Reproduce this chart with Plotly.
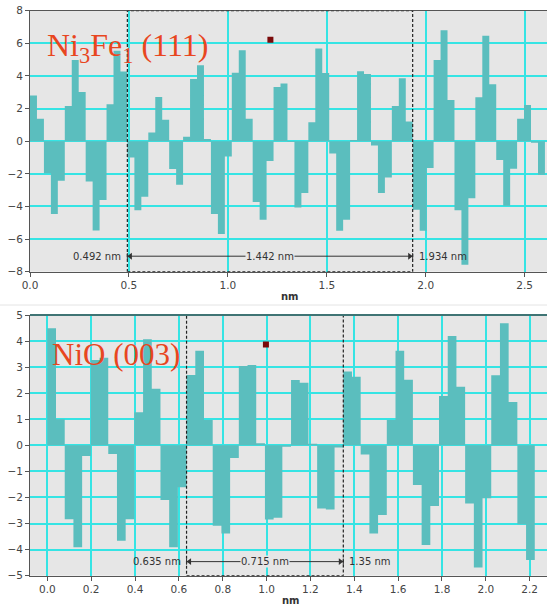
import plotly.graph_objects as go

# ---------------- data ----------------
top_step_nm = 0.03517
top_profile = [2.8, 1.37, -1.96, -4.47, -2.43, 2.16, 4.98, 3.02, -2.47, -5.47,
               -3.61, 2.27, 5.55, 4.27, -1.0, -4.24, -3.41, 0.53, 2.71, 1.31,
               -1.71, -2.67, 0.27, 3.82, 4.65, 0.14, -4.47, -5.69, -0.94, 4.2,
               5.57, 1.38, -3.72, -4.82, -1.22, 3.33, 3.54, -0.05, -4.06, -3.18,
               1.16, 5.69, 4.18, -0.76, -5.49, -4.82, 0.08, 4.29, 4.12, -0.27,
               -3.18, -2.22, 2.16, 3.86, 1.2, -4.2, -5.49, -1.65, 4.98, 6.8,
               2.53, -4.24, -7.57, -3.49, 2.69, 6.47, 3.49, -1.16, -3.96, -1.69,
               1.37, 2.22, -0.1, -2.06]

bot_step_nm = 0.0397
bot_profile = [4.49, 1.0, -2.83, -3.91, -0.41, 3.27, 3.36, -0.33, -3.66, -2.83,
               1.27, 4.07, 2.17, -2.1, -3.91, -1.61, 2.7, 3.63, 0.97, -3.08,
               -3.38, -0.49, 3.04, 3.08, 0.08, -2.84, -2.78, -0.05, 2.51, 2.4,
               0.06, -2.42, -2.46, -0.08, 2.83, 2.63, -0.35, -3.38, -2.67, 0.97,
               3.63, 2.52, -1.52, -3.82, -2.33, 1.89, 4.19, 2.25, -2.23, -4.69,
               -2.03, 2.69, 4.68, 1.66, -3.03, -4.4]

top_marks = [0.492, 1.934]          # nm, measured positions
top_span_label = "1.442 nm"
bot_marks = [0.635, 1.35]
bot_span_label = "0.715 nm"

top_cursor = (1.215, 6.22)
bot_cursor = (0.997, 3.87)

top_title = "Ni<sub>3</sub>Fe<sub>1</sub> (111)"
bot_title = "NiO (003)"

top_xticks = [0.0, 0.5, 1.0, 1.5, 2.0, 2.5]
bot_xticks = [0.0, 0.2, 0.4, 0.6, 0.8, 1.0, 1.2, 1.4, 1.6, 1.8, 2.0, 2.2]
top_yticks = [-8, -6, -4, -2, 0, 2, 4, 6, 8]
bot_yticks = [-5, -4, -3, -2, -1, 0, 1, 2, 3, 4, 5]

# ---------------- styles ----------------
TEAL = "#5bbebe"
GRID = "#35e4e4"
BG = "#e6e6e6"
AX = "#555555"
TXT = "#333333"
RED = "#e8461f"
W, H = 547, 612
top_range = [0, 2.613]
bot_range = [-0.079, 2.279]
xdom = [30 / W, 1.0]
plot_w = W * (xdom[1] - xdom[0])


def step_trace(values, step, xa, ya):
    # histogram-like step profile: one filled step path (bins of width `step`)
    edges = [i * step for i in range(len(values) + 1)]
    ys = list(values) + [values[-1]]
    return go.Scatter(x=edges, y=ys, mode="lines", line=dict(shape="hv", width=0, color=TEAL),
                      fill="tozeroy", fillcolor=TEAL, xaxis=xa, yaxis=ya,
                      showlegend=False, hoverinfo="skip")


fig = go.Figure()
fig.add_trace(step_trace(top_profile, top_step_nm, "x", "y"))
fig.add_trace(step_trace(bot_profile, bot_step_nm, "x2", "y2"))
fig.add_trace(go.Scatter(x=[top_cursor[0]], y=[top_cursor[1]], mode="markers",
                         marker=dict(symbol="square", size=6, color="#7a0a0a"),
                         xaxis="x", yaxis="y", showlegend=False))
fig.add_trace(go.Scatter(x=[bot_cursor[0]], y=[bot_cursor[1]], mode="markers",
                         marker=dict(symbol="square", size=6, color="#7a0a0a"),
                         xaxis="x2", yaxis="y2", showlegend=False))

axis_common = dict(showgrid=True, gridcolor=GRID, gridwidth=1.5, zeroline=False,
                   showline=True, linecolor=AX, linewidth=1, ticks="outside",
                   ticklen=4, tickcolor=AX, automargin=False,
                   tickfont=dict(family="DejaVu Sans", size=10.5, color="#444"))

fig.update_layout(
    width=W, height=H, margin=dict(l=0, r=0, t=0, b=0),
    paper_bgcolor="white", plot_bgcolor=BG,
    xaxis=dict(domain=xdom, anchor="y", range=top_range, tickvals=top_xticks,
               tickformat=".1f", mirror=True, **axis_common),
    yaxis=dict(domain=[1 - 271.7 / H, 1 - 10.7 / H], anchor="x", range=[-8, 8],
               tickvals=top_yticks, **axis_common),
    xaxis2=dict(domain=xdom, anchor="y2", range=bot_range, tickvals=bot_xticks,
                tickformat=".1f", **axis_common),
    yaxis2=dict(domain=[1 - 575.7 / H, 1 - 315 / H], anchor="x2", range=[-5, 5],
                tickvals=bot_yticks, **axis_common),
)

shapes = []
annotations = []


def add_measure(xref, yref, xr, marks, yr, ay, span_label):
    x0, x1 = marks
    nm_per_px = (xr[1] - xr[0]) / plot_w
    shapes.append(dict(type="rect", xref=xref, yref=yref, x0=x0, x1=x1,
                       y0=yr[0], y1=yr[1], line=dict(color="#222", width=1.2, dash="3px,2px"),
                       layer="above"))
    shapes.append(dict(type="line", xref=xref, yref=yref, x0=x0, x1=x1, y0=ay, y1=ay,
                       line=dict(color="#333", width=1), layer="above"))
    tick_h = (yr[1] - yr[0]) * 0.012
    for xv in marks:
        shapes.append(dict(type="line", xref=xref, yref=yref, x0=xv, x1=xv,
                           y0=ay - tick_h, y1=ay + tick_h,
                           line=dict(color="#333", width=1), layer="above"))
    # arrowheads
    fig.add_trace(go.Scatter(x=[x0 + 3 * nm_per_px, x1 - 3 * nm_per_px], y=[ay, ay],
                             mode="markers",
                             marker=dict(symbol=["triangle-left", "triangle-right"], size=6,
                                         color="#333"),
                             xaxis=xref, yaxis=yref, showlegend=False, hoverinfo="skip"))
    f = dict(family="DejaVu Sans", size=10, color=TXT)
    annotations.append(dict(xref=xref, yref=yref, x=x0, y=ay, xshift=-4, text=f"{x0:g} nm",
                            showarrow=False, xanchor="right", yanchor="middle", font=f))
    annotations.append(dict(xref=xref, yref=yref, x=x1, y=ay, xshift=4, text=f"{x1:g} nm",
                            showarrow=False, xanchor="left", yanchor="middle", font=f))
    annotations.append(dict(xref=xref, yref=yref, x=(x0 + x1) / 2, y=ay, text=span_label,
                            showarrow=False, xanchor="center", yanchor="middle", font=f,
                            bgcolor=BG, borderpad=0))


add_measure("x", "y", top_range, top_marks, [-8, 8], -7.05, top_span_label)
add_measure("x2", "y2", bot_range, bot_marks, [-5, 5], -4.46, bot_span_label)

# darker top border on lower panel
shapes.append(dict(type="line", xref="paper", yref="paper", x0=xdom[0], x1=1,
                   y0=1 - 315 / H, y1=1 - 315 / H, line=dict(color="#3f7474", width=2),
                   layer="above"))
# light separator line
shapes.append(dict(type="line", xref="paper", yref="paper", x0=0, x1=1,
                   y0=1 - 305 / H, y1=1 - 305 / H, line=dict(color="#e4e4e4", width=1)))

annotations.append(dict(xref="x", yref="y", x=0.076, y=5.75, text=top_title,
                        showarrow=False, xanchor="left", yanchor="middle",
                        font=dict(family="Liberation Serif", size=32, color=RED)))
annotations.append(dict(xref="x2", yref="y2", x=0.012, y=3.5, text=bot_title,
                        showarrow=False, xanchor="left", yanchor="middle",
                        font=dict(family="Liberation Serif", size=31, color=RED)))

annotations.append(dict(xref="paper", yref="paper", x=0.531, y=1 - 296 / H, text="<b>nm</b>",
                        showarrow=False, xanchor="center", yanchor="middle",
                        font=dict(family="DejaVu Sans", size=10, color=TXT)))
annotations.append(dict(xref="paper", yref="paper", x=0.532, y=1 - 600 / H, text="<b>nm</b>",
                        showarrow=False, xanchor="center", yanchor="middle",
                        font=dict(family="DejaVu Sans", size=10, color=TXT)))

fig.update_layout(shapes=shapes, annotations=annotations)
fig.write_html("out.html", config={"displayModeBar": False},
               post_script="document.body.style.margin='0';document.body.style.overflow='hidden';")
